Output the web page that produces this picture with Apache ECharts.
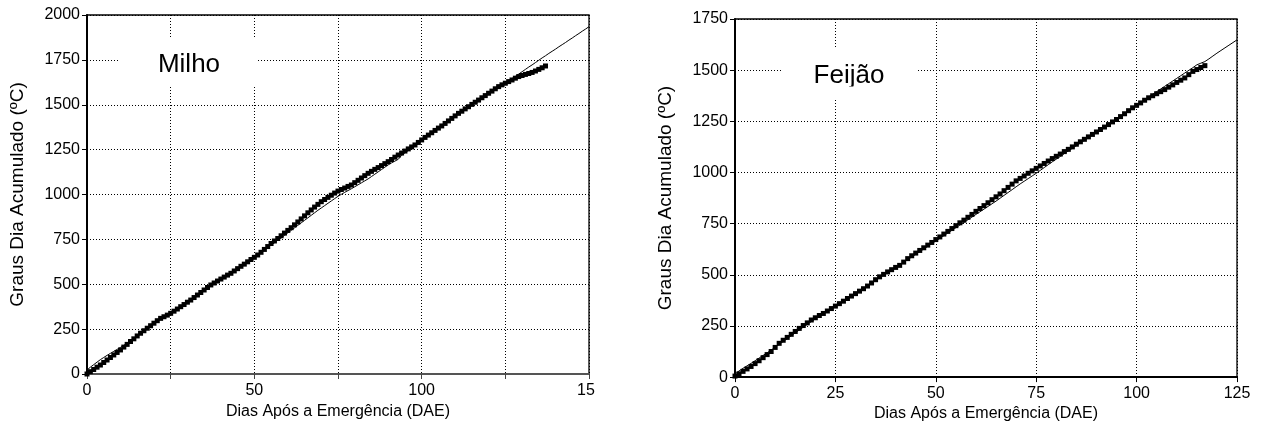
<!DOCTYPE html>
<html>
<head>
<meta charset="utf-8">
<script src="https://cdn.jsdelivr.net/npm/echarts@6/dist/echarts.min.js"></script>
<style>
html,body{margin:0;padding:0;background:#fff;}
#c{width:1263px;height:427px;}
</style>
</head>
<body>
<div id="c"></div>
<script>
// ---- Milho (left) : observed GDD, daily from day 0 ----
var milhoObs = [0,13,25,38,50,64,78,92,106,120,
134,150,165,181,196,212,227,241,255,269,
283,297,310,319,328,338,350,362,375,387,
400,412,426,440,454,468,482,496,507,518,
529,540,551,561,574,587,600,612,625,638,
650,663,678,694,710,727,741,755,770,785,
800,815,831,847,864,881,898,914,930,945,
960,972,984,996,1008,1019,1028,1036,1045,1053,
1066,1079,1092,1105,1118,1129,1140,1150,1161,1172,
1183,1195,1208,1220,1231,1242,1254,1265,1276,1290,
1304,1318,1331,1344,1357,1370,1382,1396,1410,1424,
1438,1452,1464,1477,1489,1502,1514,1526,1539,1551,
1564,1576,1589,1601,1611,1620,1629,1638,1648,1657,
1663,1669,1674,1680,1688,1697,1706,1716];
// ---- Milho (left) : simulated GDD line, daily from day 0 ----
var milhoSim = [22,38,52,66,80,92,104,115,126,137,
148,160,172,185,198,212,226,240,254,268,
281,294,306,317,328,339,351,363,375,387,
399,412,425,438,451,465,479,492,504,516,
528,540,552,564,576,589,601,614,627,640,
652,665,678,691,704,718,731,745,758,772,
786,800,814,828,842,856,870,884,898,912,
925,938,951,964,977,990,1001,1012,1022,1032,
1043,1054,1065,1076,1087,1100,1113,1126,1139,1152,
1165,1176,1186,1196,1218,1232,1245,1257,1269,1284,
1298,1313,1328,1342,1356,1370,1384,1397,1411,1424,
1438,1451,1464,1477,1490,1503,1516,1529,1542,1555,
1568,1581,1594,1606,1615,1624,1633,1646,1658,1671,
1684,1697,1710,1722,1735,1748,1761,1773,1786,1798,
1810,1823,1835,1847,1860,1872,1885,1897,1910,1922,
1935];
// ---- Feijão (right) : observed GDD, daily from day 0 ----
var feijaoObs = [5,16,28,40,52,66,80,95,110,125,
145,165,180,194,209,223,238,252,265,279,
290,301,311,323,335,347,359,371,384,396,
408,420,432,445,460,476,490,502,514,525,
536,546,562,579,593,606,619,632,645,658,
672,685,699,712,726,740,754,767,781,795,
810,824,838,852,867,881,895,911,927,943,
959,971,983,996,1008,1020,1032,1044,1056,1068,
1079,1090,1102,1113,1125,1138,1150,1162,1174,1186,
1198,1210,1222,1234,1247,1259,1273,1287,1302,1316,
1328,1340,1353,1365,1375,1385,1395,1405,1417,1428,
1440,1451,1462,1478,1494,1503,1513,1522];
// ---- Feijão (right) : simulated GDD line, daily from day 0 ----
var feijaoSim = [15,30,43,55,67,80,93,106,119,132,
146,160,174,188,202,216,230,244,258,271,
284,297,310,322,334,347,359,371,383,396,
408,420,433,446,459,472,485,498,511,524,
536,549,562,574,587,600,613,626,639,652,
665,678,691,704,717,730,743,756,769,782,
795,808,821,834,847,860,874,888,902,916,
930,944,957,970,983,996,1010,1024,1038,1052,
1065,1078,1092,1105,1118,1131,1144,1157,1170,1183,
1196,1209,1222,1235,1248,1261,1275,1289,1303,1316,
1329,1342,1356,1369,1382,1395,1408,1421,1434,1447,
1460,1473,1486,1499,1512,1526,1534,1542,1555,1569,
1583,1596,1609,1622,1635,1648];

// tick labels
var milhoXLabels = {0:'0',50:'50',100:'100',150:'15'};
var milhoYTicks = [0,250,500,750,1000,1250,1500,1750,2000];
var feijaoXLabels = {0:'0',25:'25',50:'50',75:'75',100:'100',125:'125'};
var feijaoYTicks = [0,250,500,750,1000,1250,1500,1750];

var xTitle = 'Dias Após a Emergência (DAE)';
var yTitle = 'Graus Dia Acumulado (ºC)';
var titles = ['Milho','Feijão'];

function pairs(arr){ return arr.map(function(v,i){ return [i,v]; }); }

var FONT = "'Liberation Sans', Arial, sans-serif";
var chart = echarts.init(document.getElementById('c'));

function yAxisCfg(gi, max){
  return {
    type:'value', gridIndex:gi, min:0, max:max, interval:250,
    name:yTitle, nameLocation:'middle', nameGap:60, nameRotate:90,
    nameTextStyle:{color:'#000', fontSize:19, fontFamily:FONT},
    axisLine:{show:true, lineStyle:{color:'#000', width:2}},
    axisTick:{show:true, length:5, lineStyle:{color:'#000', width:1}},
    axisLabel:{color:'#000', fontSize:16, fontFamily:FONT, margin:7,
      formatter:function(v){ return String(v); }},
    splitLine:{show:true, lineStyle:{color:'#000', type:[1,2], width:1}}
  };
}

chart.setOption({
  animation:false,
  backgroundColor:'#fff',
  grid:[
    {left:87, top:15, width:502, height:359, show:true, borderColor:'#000', borderWidth:1.3, backgroundColor:'transparent'},
    {left:735, top:19, width:502, height:360, show:true, borderColor:'#000', borderWidth:1.3, backgroundColor:'transparent'}
  ],
  xAxis:[
    {type:'value', gridIndex:0, min:0, max:150, interval:25,
     name:xTitle, nameLocation:'middle', nameGap:28,
     nameTextStyle:{color:'#000', fontSize:16, fontFamily:FONT},
     axisLine:{show:true, lineStyle:{color:'#555', width:2}},
     axisTick:{show:true, length:5, lineStyle:{color:'#444', width:1}},
     axisLabel:{color:'#000', fontSize:16, fontFamily:FONT, margin:9, showMaxLabel:true,
       formatter:function(v){ var s = milhoXLabels[v]; if(s===undefined) return ''; return v===150 ? '{c|'+s+'}' : s; },
       rich:{c:{fontSize:16, fontFamily:FONT, color:'#000', padding:[0,6,0,0]}}},
     splitLine:{show:true, lineStyle:{color:'#000', type:[1,2], width:1}}},
    {type:'value', gridIndex:1, min:0, max:125, interval:25,
     name:xTitle, nameLocation:'middle', nameGap:27,
     nameTextStyle:{color:'#000', fontSize:16, fontFamily:FONT},
     axisLine:{show:true, lineStyle:{color:'#000', width:2}},
     axisTick:{show:true, length:5, lineStyle:{color:'#000', width:1}},
     axisLabel:{color:'#000', fontSize:16, fontFamily:FONT, margin:8,
       formatter:function(v){ var s = feijaoXLabels[v]; return s===undefined ? '' : s; }},
     splitLine:{show:true, lineStyle:{color:'#000', type:[1,2], width:1}}}
  ],
  yAxis:[ yAxisCfg(0, milhoYTicks[milhoYTicks.length-1]), yAxisCfg(1, feijaoYTicks[feijaoYTicks.length-1]) ],
  series:[
    {type:'line', xAxisIndex:0, yAxisIndex:0, data:pairs(milhoSim), showSymbol:false, symbol:'none',
     lineStyle:{color:'#000', width:1}, z:3},
    {type:'scatter', xAxisIndex:0, yAxisIndex:0, data:pairs(milhoObs), symbol:'rect', symbolSize:5,
     itemStyle:{color:'#000', opacity:1}, z:4},
    {type:'line', xAxisIndex:1, yAxisIndex:1, data:pairs(feijaoSim), showSymbol:false, symbol:'none',
     lineStyle:{color:'#000', width:1}, z:3},
    {type:'scatter', xAxisIndex:1, yAxisIndex:1, data:pairs(feijaoObs), symbol:'rect', symbolSize:5,
     itemStyle:{color:'#000', opacity:1}, z:4}
  ],
  graphic:[
    {type:'rect', shape:{x:120, y:39, width:138, height:47}, style:{fill:'#fff'}, z:50},
    {type:'text', x:189, y:65, style:{text:titles[0], fill:'#000', font:'26px '+FONT, align:'center', verticalAlign:'middle'}, z:51},
    {type:'rect', shape:{x:782, y:48, width:135, height:50}, style:{fill:'#fff'}, z:50},
    {type:'text', x:849, y:76, style:{text:titles[1], fill:'#000', font:'26px '+FONT, align:'center', verticalAlign:'middle'}, z:51},
    {type:'rect', shape:{x:805, y:86.5, width:90, height:8}, style:{fill:'#fff'}, z:52}
  ]
});
</script>
</body>
</html>
